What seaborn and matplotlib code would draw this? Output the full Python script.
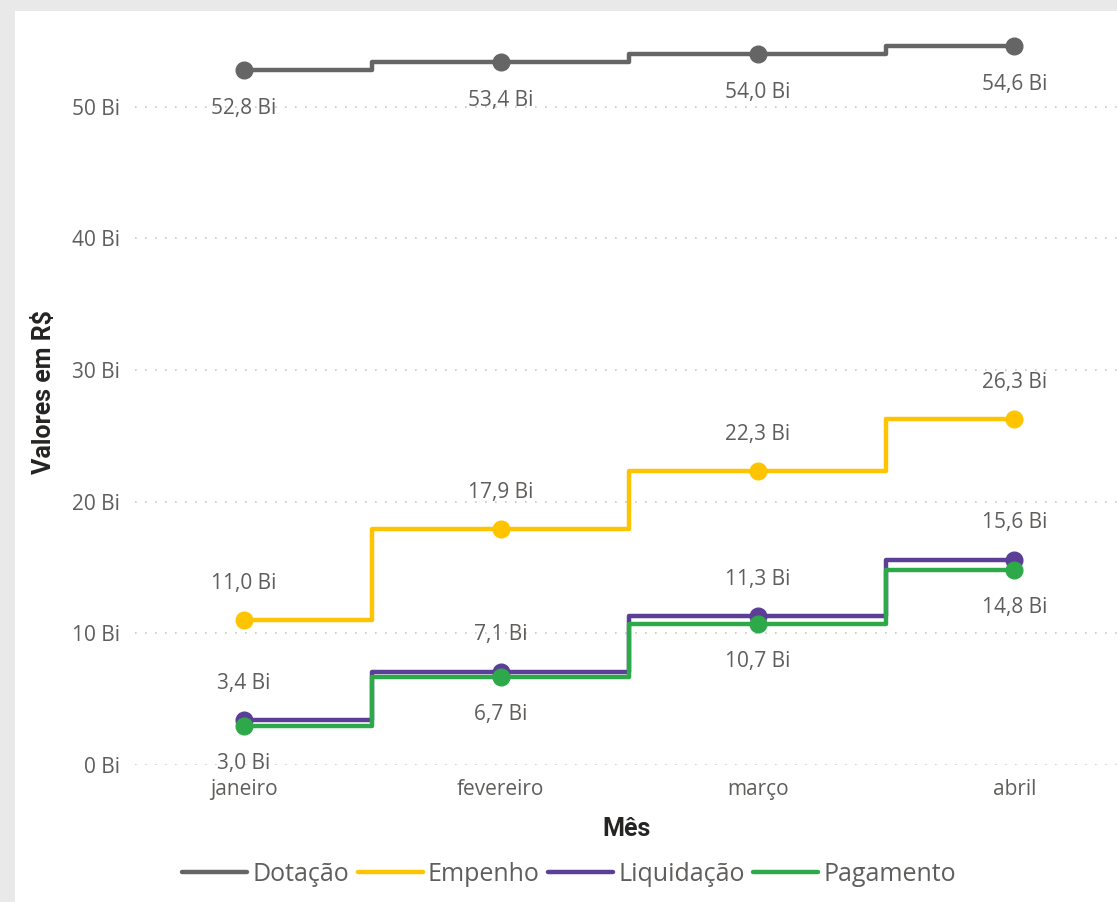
import matplotlib
matplotlib.use("Agg")
import matplotlib.pyplot as plt
import seaborn as sns
import pandas as pd
from matplotlib.patches import Rectangle

# Data
meses = ["janeiro", "fevereiro", "março", "abril"]
dotacao = [52.8, 53.4, 54.0, 54.6]
empenho = [11.0, 17.9, 22.3, 26.3]
liquidacao = [3.4, 7.1, 11.3, 15.6]
pagamento = [3.0, 6.7, 10.7, 14.8]
y_ticks = [0, 10, 20, 30, 40, 50]

series = {
    "Dotação": dotacao,
    "Empenho": empenho,
    "Liquidação": liquidacao,
    "Pagamento": pagamento,
}
cores = {
    "Dotação": "#656565",
    "Empenho": "#FFC400",
    "Liquidação": "#5B3E96",
    "Pagamento": "#2EA94A",
}
# label offset in points (negative = below point)
offsets = {"Dotação": -27.5, "Empenho": 26.5, "Liquidação": 26.5, "Pagamento": -27}

rows = []
for nome, vals in series.items():
    for i, v in enumerate(vals):
        rows.append({"x": i, "mes": meses[i], "valor": v, "serie": nome})
df = pd.DataFrame(rows)

sns.set_theme(style="white")
plt.rcParams['font.family'] = ['Open Sans', 'DejaVu Sans']

fig = plt.figure(figsize=(11.17, 9.02), dpi=100)
fig.patch.set_facecolor("#E9E9E9")
fig.add_artist(Rectangle((15 / 1117, 0), 1, 1 - 11 / 902, transform=fig.transFigure,
                         facecolor="white", edgecolor="none", zorder=-10))

ax = fig.add_axes([135 / 1117, 137 / 902, 1 - 135 / 1117, 745 / 902])
ax.set_facecolor("none")

for nome in series:
    d = df[df["serie"] == nome]
    sns.lineplot(data=d, x="x", y="valor", ax=ax, color=cores[nome], linewidth=3.2,
                 drawstyle="steps-mid", label=nome, zorder=3)
    ax.plot(d["x"], d["valor"], "o", color=cores[nome], markersize=12, zorder=4)
    for _, r in d.iterrows():
        txt = f"{r['valor']:.1f}".replace(".", ",") + " Bi"
        ax.annotate(txt, (r["x"], r["valor"]), xytext=(0, offsets[nome]),
                    textcoords="offset points", ha="center", va="center",
                    fontsize=15, color="#605E5C", zorder=5)

ax.set_xlim(-0.425, 3.4)
ax.set_ylim(0, 56.6)
ax.set_xticks(range(len(meses)))
ax.set_xticklabels(meses)
ax.set_yticks(y_ticks)
ax.set_yticklabels([f"{t} Bi" for t in y_ticks])
ax.tick_params(axis="both", labelsize=15, labelcolor="#605E5C", length=0)
ax.tick_params(axis="x", pad=10)
ax.tick_params(axis="y", pad=11)
ax.grid(axis="y", linestyle=(0, (1, 5)), color="#C8C8C8", linewidth=1.2)
for s in ax.spines.values():
    s.set_visible(False)

ax.set_xlabel("Mês", fontsize=18, fontweight="bold", color="#252423", labelpad=12,
              family=["Roboto", "DejaVu Sans"])
ax.set_ylabel("Valores em R$", fontsize=18, fontweight="bold", color="#252423", labelpad=11,
              family=["Roboto", "DejaVu Sans"])

ax.legend(loc="center", bbox_to_anchor=(0.442, -0.147), ncol=4, frameon=False,
          fontsize=18, handlelength=2.6, handletextpad=0.2, columnspacing=0.35,
          labelcolor="#605E5C")

fig.savefig("out.png", dpi=100, facecolor=fig.get_facecolor())
